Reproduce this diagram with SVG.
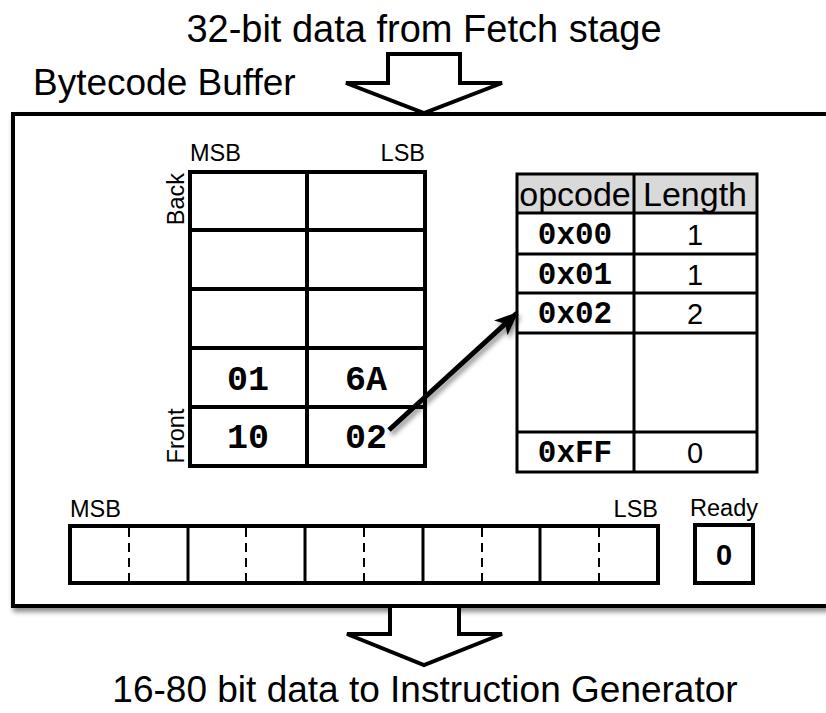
<svg xmlns="http://www.w3.org/2000/svg" width="826" height="713" viewBox="0 0 826 713">
<style>
.sans{font-family:"Liberation Sans",Arial,sans-serif;fill:#000}
.big{font-size:38px}
.lbl{font-size:23.5px}
.mono{font-family:"Liberation Mono","Courier New",monospace;font-weight:bold;fill:#000}
.ln{stroke:#000;fill:none;stroke-width:4;stroke-linecap:square}
.tl{stroke:#000;fill:none;stroke-width:3}
.dash{stroke:#000;stroke-width:2;stroke-dasharray:9 6}
.bigarrow{fill:#fff;stroke:#000;stroke-width:4;stroke-linejoin:miter}
</style>
<defs>
<filter id="sh" x="-10%" y="-10%" width="130%" height="130%">
<feDropShadow dx="2" dy="4" stdDeviation="2.5" flood-color="#000" flood-opacity="0.45"/>
</filter>
<marker id="ah" markerUnits="userSpaceOnUse" markerWidth="26" markerHeight="22" refX="22" refY="11" orient="auto">
<path d="M0,1 L24,11 L0,21 L6,11 Z" fill="#000"/>
</marker>
</defs>
<rect width="826" height="713" fill="#fff"/>

<g id="title">
<text class="sans big" x="424" y="42" text-anchor="middle">32-bit data from Fetch stage</text>
</g>
<g id="buffer">
<rect x="13" y="114" width="840" height="492" fill="#fff" stroke="#000" stroke-width="4" filter="url(#sh)"/>
<text class="sans" font-size="37" x="33" y="95">Bytecode Buffer</text>
</g>
<g id="in-arrow">
<polygon class="bigarrow" points="388,54 460,54 460,83 502,83 424,113 346,83 388,83"/>
</g>
<g id="out-arrow">
<polygon class="bigarrow" points="390,606 459,606 459,634 502,634 424,665 347,634 390,634"/>
<text class="sans" font-size="37" x="425" y="702" text-anchor="middle">16-80 bit data to Instruction Generator</text>
</g>

<g id="queue">
<text class="sans lbl" x="190" y="161">MSB</text>
<text class="sans lbl" x="425" y="161" text-anchor="end">LSB</text>
<text class="sans lbl" transform="translate(184,199) rotate(-90)" text-anchor="middle">Back</text>
<text class="sans lbl" transform="translate(184,436) rotate(-90)" text-anchor="middle">Front</text>
<rect class="ln" x="190" y="172" width="235" height="294" fill="#fff"/>
<line class="ln" x1="307" y1="172" x2="307" y2="466"/>
<line class="ln" x1="190" y1="230" x2="425" y2="230"/>
<line class="ln" x1="190" y1="289" x2="425" y2="289"/>
<line class="ln" x1="190" y1="348" x2="425" y2="348"/>
<line class="ln" x1="190" y1="407" x2="425" y2="407"/>
<text class="mono" font-size="35" x="248" y="390" text-anchor="middle">01</text>
<text class="mono" font-size="35" x="366" y="390" text-anchor="middle">6A</text>
<text class="mono" font-size="35" x="248" y="448" text-anchor="middle">10</text>
<text class="mono" font-size="35" x="366" y="448" text-anchor="middle">02</text>
</g>

<g id="length-table">
<rect x="517" y="174" width="240" height="39" fill="#d9d9d9"/>
<rect class="tl" x="517" y="174" width="240" height="298"/>
<line class="tl" x1="634" y1="174" x2="634" y2="472"/>
<line class="tl" x1="517" y1="213" x2="757" y2="213"/>
<line class="tl" x1="517" y1="254" x2="757" y2="254"/>
<line class="tl" x1="517" y1="293" x2="757" y2="293"/>
<line class="tl" x1="517" y1="333" x2="757" y2="333"/>
<line class="tl" x1="517" y1="432" x2="757" y2="432"/>
<text class="sans" font-size="34" x="575" y="206" text-anchor="middle">opcode</text>
<text class="sans" font-size="34" x="695" y="206" text-anchor="middle">Length</text>
<text class="mono" font-size="31" x="575" y="244" text-anchor="middle">0x00</text>
<text class="mono" font-size="31" x="575" y="284" text-anchor="middle">0x01</text>
<text class="mono" font-size="31" x="575" y="323" text-anchor="middle">0x02</text>
<text class="mono" font-size="31" x="575" y="462" text-anchor="middle">0xFF</text>
<text class="sans" font-size="29" x="695" y="245" text-anchor="middle">1</text>
<text class="sans" font-size="29" x="695" y="285" text-anchor="middle">1</text>
<text class="sans" font-size="29" x="695" y="324" text-anchor="middle">2</text>
<text class="sans" font-size="29" x="695" y="463" text-anchor="middle">0</text>
</g>

<g id="connectors">
<line x1="389" y1="430" x2="517" y2="313" stroke="#000" stroke-width="5" marker-end="url(#ah)" filter="url(#sh)"/>
</g>

<g id="output-register">
<text class="sans lbl" x="70" y="517">MSB</text>
<text class="sans lbl" x="658" y="517" text-anchor="end">LSB</text>
<rect class="ln" x="70" y="526" width="588" height="57" fill="#fff"/>
<line class="tl" x1="188" y1="526" x2="188" y2="583"/>
<line class="tl" x1="305" y1="526" x2="305" y2="583"/>
<line class="tl" x1="423" y1="526" x2="423" y2="583"/>
<line class="tl" x1="540" y1="526" x2="540" y2="583"/>
<line class="dash" x1="129" y1="528" x2="129" y2="581"/>
<line class="dash" x1="246" y1="528" x2="246" y2="581"/>
<line class="dash" x1="364" y1="528" x2="364" y2="581"/>
<line class="dash" x1="482" y1="528" x2="482" y2="581"/>
<line class="dash" x1="599" y1="528" x2="599" y2="581"/>
</g>
<g id="ready">
<text class="sans lbl" x="724" y="516" text-anchor="middle">Ready</text>
<rect class="ln" x="695" y="525" width="58" height="58" fill="#fff"/>
<text class="sans" font-size="29" font-weight="bold" x="724" y="565" text-anchor="middle">0</text>
</g>
</svg>
